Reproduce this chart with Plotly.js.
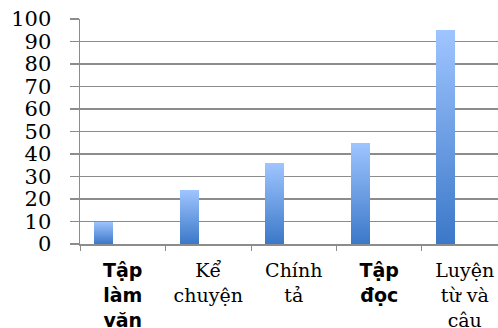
<!DOCTYPE html>
<html>
<head>
<meta charset="utf-8">
<script src="https://cdn.plot.ly/plotly-3.0.1.min.js"></script>
<style>html,body{margin:0;padding:0;background:#fff;}#chart{width:498px;height:328px;}</style>
</head>
<body>
<div id="chart"></div>
<script>
// Data
const categories = ["Tập làm văn", "Kể chuyện", "Chính tả", "Tập đọc", "Luyện từ và câu"];
const tickLabels = ["Tập<br>làm<br>văn", "Kể<br>chuyện", "Chính<br>tả", "Tập<br>đọc", "Luyện<br>từ và<br>câu"];
const values = [10, 24, 36, 45, 95];
const boldLabels = [true, false, false, true, false];
const yTicks = [0, 10, 20, 30, 40, 50, 60, 70, 80, 90, 100];

const styledTicks = tickLabels.map((t, i) =>
  boldLabels[i] ? '<span style="font-family:DejaVu Sans;font-weight:bold">' + t + '</span>' : t);

const trace = {
  type: 'bar',
  x: categories,
  y: values,
  width: 0.222,
  offset: -0.333,
  marker: {color: '#6a9de6', line: {width: 0}},
  hoverinfo: 'skip'
};

const layout = {
  width: 498, height: 328,
  margin: {l: 80, r: 0, t: 19, b: 84, pad: 0},
  paper_bgcolor: '#ffffff', plot_bgcolor: '#ffffff',
  showlegend: false,
  bargap: 0,
  xaxis: {
    type: 'category',
    range: [-0.5, 4.389],
    tickmode: 'array', tickvals: categories, ticktext: styledTicks,
    tickson: 'boundaries',
    ticks: 'outside', ticklen: 5, tickwidth: 1, tickcolor: '#8c8c8c',
    showline: true, linecolor: '#8c8c8c', linewidth: 1.5,
    showgrid: false, zeroline: false,
    tickfont: {family: 'DejaVu Serif', size: 19, color: '#000'},
    ticklabelstandoff: 9,
    tickangle: 0, automargin: false
  },
  yaxis: {
    range: [0, 100],
    tickmode: 'array', tickvals: yTicks,
    ticks: 'outside', ticklen: 9, tickwidth: 1.5, tickcolor: '#8c8c8c',
    showline: true, linecolor: '#8c8c8c', linewidth: 1.5,
    showgrid: true, gridcolor: '#8c8c8c', gridwidth: 1.5,
    zeroline: false,
    tickfont: {family: 'DejaVu Serif', size: 21, color: '#000'},
    ticklabelstandoff: 14,
    automargin: false
  }
};

Plotly.newPlot('chart', [trace], layout, {staticPlot: true, displayModeBar: false}).then(function(gd) {
  const svg = gd.querySelector('svg.main-svg');
  const ns = 'http://www.w3.org/2000/svg';
  let defs = svg.querySelector('defs');
  if (!defs) { defs = document.createElementNS(ns, 'defs'); svg.insertBefore(defs, svg.firstChild); }
  const grad = document.createElementNS(ns, 'linearGradient');
  grad.setAttribute('id', 'barGrad');
  grad.setAttribute('x1', '0'); grad.setAttribute('y1', '0');
  grad.setAttribute('x2', '0'); grad.setAttribute('y2', '1');
  [['0', '#9fc5ff'], ['1', '#3b78c8']].forEach(function(s) {
    const st = document.createElementNS(ns, 'stop');
    st.setAttribute('offset', s[0]); st.setAttribute('stop-color', s[1]);
    grad.appendChild(st);
  });
  defs.appendChild(grad);
  gd.querySelectorAll('.bars .point path').forEach(function(p) {
    p.style.fill = 'url(#barGrad)';
  });
});
</script>
</body>
</html>
